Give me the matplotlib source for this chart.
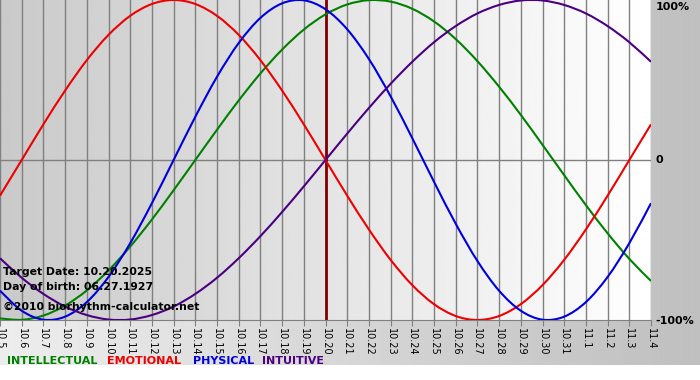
import numpy as np
import matplotlib
matplotlib.use("Agg")
import matplotlib.pyplot as plt
from matplotlib.path import Path
from matplotlib.patches import PathPatch

# dagen 10.5 .. 11.4
days = ["10.%d" % d for d in range(5, 32)] + ["11.%d" % d for d in range(1, 5)]

physical = [-0.817, -0.942, -0.998, -0.979, -0.888, -0.731, -0.520, -0.270, 0.0,
            0.270, 0.520, 0.731, 0.888, 0.979, 0.998, 0.942, 0.817, 0.631, 0.398,
            0.136, -0.136, -0.398, -0.631, -0.817, -0.942, -0.998, -0.979, -0.888,
            -0.731, -0.520, -0.270]
emotional = [-0.223, 0.0, 0.223, 0.434, 0.624, 0.782, 0.901, 0.975, 1.0, 0.975,
             0.901, 0.782, 0.624, 0.434, 0.223, 0.0, -0.223, -0.434, -0.624, -0.782,
             -0.901, -0.975, -1.0, -0.975, -0.901, -0.782, -0.624, -0.434, -0.223,
             0.0, 0.223]
intellectual = [-0.990, -0.999, -0.972, -0.910, -0.815, -0.690, -0.541, -0.372, -0.189,
                0.0, 0.189, 0.372, 0.541, 0.690, 0.815, 0.910, 0.972, 0.999, 0.990,
                0.945, 0.866, 0.756, 0.618, 0.458, 0.282, 0.095, -0.095, -0.282,
                -0.458, -0.618, -0.756]
intuitive = [-0.614, -0.736, -0.837, -0.916, -0.969, -0.997, -0.997, -0.969, -0.916,
             -0.837, -0.736, -0.614, -0.476, -0.325, -0.165, 0.0, 0.165, 0.325,
             0.476, 0.614, 0.736, 0.837, 0.916, 0.969, 0.997, 0.997, 0.969, 0.916,
             0.837, 0.736, 0.614]

target_idx = 15
target_date = "10.20.2025"
birth_date = "06.27.1927"

W, H = 700, 380


def smooth_line(ax, xs, ys, color):
    # vloeiende lijn door de punten (catmull-rom als bezier)
    p = np.column_stack([xs, ys]).astype(float)
    ext = np.vstack([p[0], p, p[-1]])
    verts = [p[0]]
    codes = [Path.MOVETO]
    for i in range(1, len(ext) - 2):
        c1 = ext[i] + (ext[i + 1] - ext[i - 1]) / 6
        c2 = ext[i + 1] - (ext[i + 2] - ext[i]) / 6
        verts += [c1, c2, ext[i + 1]]
        codes += [Path.CURVE4] * 3
    ax.add_patch(PathPatch(Path(verts, codes), fill=False, edgecolor=color,
                           lw=1.5, zorder=3))


fig = plt.figure(figsize=(W / 100, H / 100), dpi=100)

# achtergrond figuur (verloop)
bg = fig.add_axes([0, 0, 1, 1], zorder=-5)
grad = np.linspace(0.93, 0.75, 256)
img = np.tile(grad, (H, 1))
img[365:, :] = 1.0
bg.imshow(img, cmap="gray", vmin=0, vmax=1, aspect="auto", extent=[0, W, H, 0])
bg.set_xlim(0, W)
bg.set_ylim(H, 0)
bg.axis("off")

ax = fig.add_axes([0, 60 / H, 651 / W, 320 / H])
x = np.arange(len(days))
ax.imshow(np.tile(np.linspace(0.79, 1.0, 256), (2, 1)), cmap="gray", vmin=0, vmax=1,
          aspect="auto", extent=[0, x[-1], -1, 1], zorder=0)
ax.set_xlim(0, x[-1])
ax.set_ylim(-1, 1)

for xi in x:
    ax.axvline(xi, color="#808080", lw=1, zorder=1)
ax.axhline(0, color="#808080", lw=1, zorder=1)
ax.axvline(target_idx, color="#800000", lw=2, zorder=2)

smooth_line(ax, x, intellectual, "#008000")
smooth_line(ax, x, emotional, "#ee0000")
smooth_line(ax, x, physical, "#0000dd")
smooth_line(ax, x, intuitive, "#4b0082")

for s in ["top", "left", "right"]:
    ax.spines[s].set_visible(False)
ax.spines["bottom"].set_color("#808080")
ax.set_xticks(x)
ax.set_xticklabels(days, rotation=-90, fontsize=7)
ax.tick_params(axis="x", length=4, color="#808080", pad=2)
ax.set_yticks([])

# labels rechts
fig.text(656 / W, 1 - 7 / H, "100%", fontsize=8, fontweight="bold", va="center")
fig.text(656 / W, 1 - 160 / H, "0", fontsize=8, fontweight="bold", va="center")
fig.text(655 / W, 1 - 321 / H, "-100%", fontsize=8, fontweight="bold", va="center")

# info tekst
fig.text(3 / W, 1 - 272 / H, "Target Date: " + target_date, fontsize=7.8,
         fontweight="bold", va="center")
fig.text(3 / W, 1 - 287 / H, "Day of birth: " + birth_date, fontsize=7.8,
         fontweight="bold", va="center")
fig.text(3 / W, 1 - 307 / H, "\u00a92010 biorhythm-calculator.net", fontsize=7.8,
         fontweight="bold", va="center")

# legenda
legend = [("INTELLECTUAL", "#008000", 7), ("EMOTIONAL", "#ee0000", 107),
          ("PHYSICAL", "#0000dd", 193), ("INTUITIVE", "#4b0082", 262)]
for name, col, px in legend:
    fig.text(px / W, 1 - 361 / H, name, color=col, fontsize=8, fontweight="bold",
             va="center")

fig.savefig("out.png", dpi=100)
